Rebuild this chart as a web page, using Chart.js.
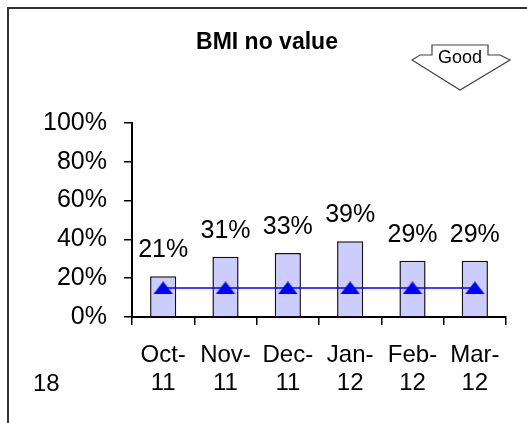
<!DOCTYPE html>
<html>
<head>
<meta charset="utf-8">
<script src="https://cdn.jsdelivr.net/npm/chart.js@4/dist/chart.umd.min.js"></script>
<style>
  html, body { margin: 0; padding: 0; background: #fff; }
  #chart { display: block; }
</style>
</head>
<body>
<canvas id="chart" width="527" height="423"></canvas>
<script>
// data
var months = [['Oct-', '11'], ['Nov-', '11'], ['Dec-', '11'], ['Jan-', '12'], ['Feb-', '12'], ['Mar-', '12']];
var noValuePct = [21, 31, 33, 39, 29, 29];
var targetPct = [15, 15, 15, 15, 15, 15];
var yTicks = [0, 20, 40, 60, 80, 100];

var chartTitle = 'BMI no value';
var arrowText = 'Good';
var pageNumber = '18';

var FONT = '"Liberation Sans", Arial, sans-serif';

// flat blue triangle used as the line marker
var tri = document.createElement('canvas');
tri.width = 20;
tri.height = 13;
(function () {
  var c = tri.getContext('2d');
  c.fillStyle = '#0000ff';
  c.beginPath();
  c.moveTo(10, 0);
  c.lineTo(20, 13);
  c.lineTo(0, 13);
  c.closePath();
  c.fill();
})();

var decorPlugin = {
  id: 'decor',
  beforeDraw: function (chart) {
    var ctx = chart.ctx;
    ctx.save();
    ctx.fillStyle = '#fff';
    ctx.fillRect(0, 0, chart.width, chart.height);
    ctx.restore();
  },
  afterDraw: function (chart) {
    var ctx = chart.ctx;
    ctx.save();
    // frame (only left and top edges are visible)
    ctx.strokeStyle = '#333';
    ctx.lineWidth = 2;
    ctx.beginPath();
    ctx.moveTo(8, 423);
    ctx.lineTo(8, 8);
    ctx.lineTo(527, 8);
    ctx.stroke();

    // title
    ctx.fillStyle = '#000';
    ctx.font = 'bold 23px ' + FONT;
    ctx.textAlign = 'center';
    ctx.textBaseline = 'middle';
    ctx.fillText(chartTitle, 267, 43);

    // "Good" arrow pointing down
    ctx.fillStyle = '#fff';
    ctx.strokeStyle = '#444';
    ctx.lineWidth = 1.2;
    ctx.beginPath();
    ctx.moveTo(432, 45);
    ctx.lineTo(488, 45);
    ctx.lineTo(488, 55);
    ctx.lineTo(500, 55);
    ctx.lineTo(510, 60);
    ctx.lineTo(460, 90);
    ctx.lineTo(412, 60);
    ctx.lineTo(420, 55);
    ctx.lineTo(432, 55);
    ctx.closePath();
    ctx.fill();
    ctx.stroke();
    ctx.fillStyle = '#000';
    ctx.font = '18px ' + FONT;
    ctx.fillText(arrowText, 460, 58);

    // page number
    ctx.font = '24px ' + FONT;
    ctx.textAlign = 'left';
    ctx.fillText(pageNumber, 33, 384);
    ctx.restore();
  }
};

var valueLabels = {
  id: 'valueLabels',
  afterDatasetsDraw: function (chart) {
    var ctx = chart.ctx;
    var meta = chart.getDatasetMeta(1);
    ctx.save();
    ctx.fillStyle = '#000';
    ctx.font = '25px ' + FONT;
    ctx.textAlign = 'center';
    ctx.textBaseline = 'alphabetic';
    meta.data.forEach(function (bar, i) {
      ctx.fillText(noValuePct[i] + '%', bar.x, bar.y - 19);
    });
    ctx.restore();
  }
};

new Chart(document.getElementById('chart'), {
  type: 'bar',
  data: {
    labels: months,
    datasets: [{
      type: 'line',
      data: targetPct,
      borderColor: '#0000ff',
      borderWidth: 1.5,
      pointStyle: tri,
      pointRadius: 8,
      fill: false,
      order: 0
    }, {
      type: 'bar',
      data: noValuePct,
      backgroundColor: '#ccccff',
      borderColor: '#111',
      borderWidth: 1.5,
      barPercentage: 0.42,
      categoryPercentage: 1,
      order: 1
    }]
  },
  options: {
    responsive: false,
    animation: false,
    layout: { padding: { top: 123, right: 21, bottom: 0, left: 0 } },
    plugins: {
      legend: { display: false },
      tooltip: { enabled: false }
    },
    scales: {
      x: {
        grid: { drawOnChartArea: false, tickLength: 8, color: '#000', lineWidth: 1.5 },
        border: { color: '#000', width: 2 },
        ticks: {
          color: '#000',
          font: { family: FONT, size: 24, lineHeight: 1.17 },
          padding: 16,
          maxRotation: 0,
          autoSkip: false
        },
        afterFit: function (s) { s.height = 106; }
      },
      y: {
        min: 0,
        max: 100,
        afterBuildTicks: function (s) {
          s.ticks = yTicks.map(function (v) { return { value: v }; });
        },
        grid: { drawOnChartArea: false, tickLength: 8, color: '#000', lineWidth: 1.5 },
        border: { color: '#000', width: 2 },
        ticks: {
          color: '#000',
          font: { family: FONT, size: 25 },
          padding: 17,
          callback: function (v) { return v + '%'; }
        },
        afterFit: function (s) { s.width = 132; }
      }
    }
  },
  plugins: [decorPlugin, valueLabels]
});
</script>
</body>
</html>
